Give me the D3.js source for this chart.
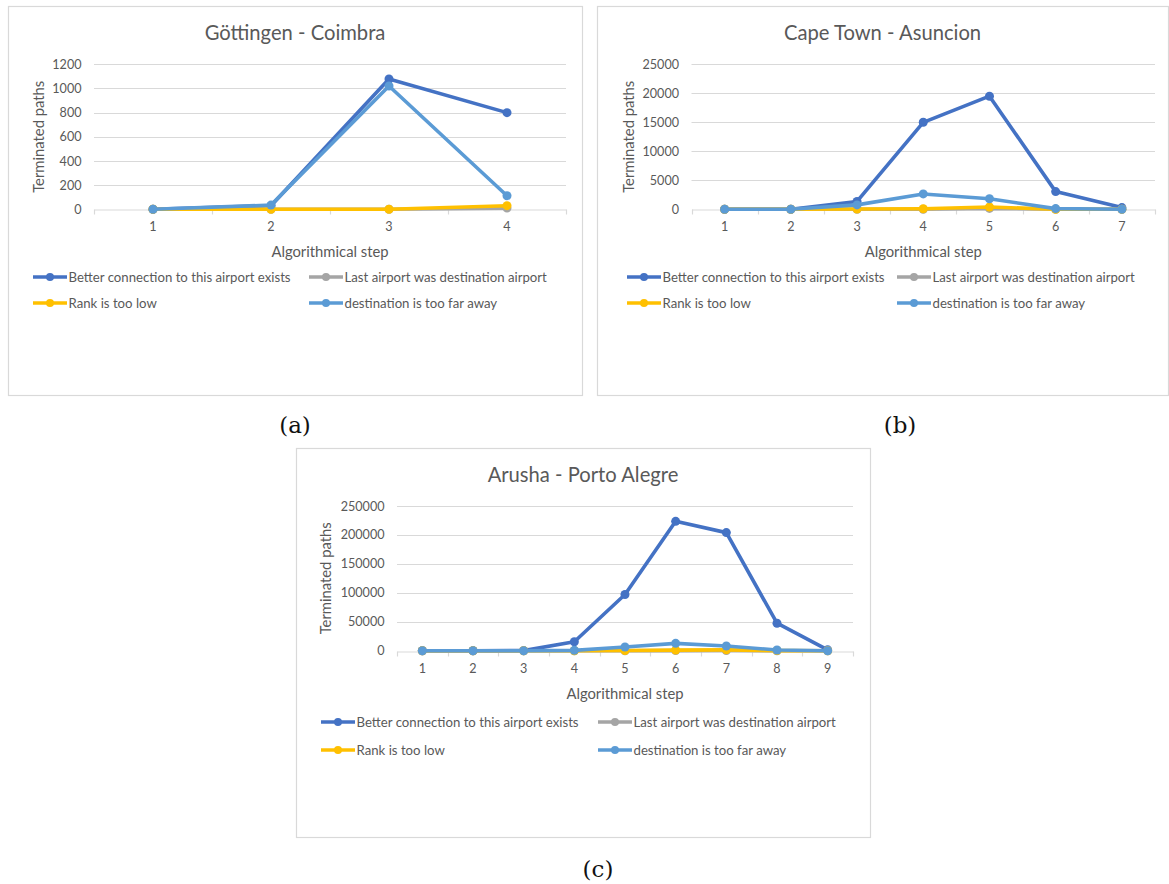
<!DOCTYPE html>
<html>
<head>
<meta charset="utf-8">
<script src="https://cdn.jsdelivr.net/npm/d3@7"></script>
<style>
  html, body { margin: 0; padding: 0; background: #ffffff; }
  svg { display: block; }
</style>
</head>
<body>
<svg id="fig" width="1169" height="884"></svg>
<script>
// Terminated paths per algorithmical step, for three airport pairs.
const seriesNames = [
  "Better connection to this airport exists",
  "Last airport was destination airport",
  "Rank is too low",
  "destination is too far away"
];
const seriesColors = ["#4472C4", "#A5A5A5", "#FFC000", "#5B9BD5"];

// (a) Göttingen - Coimbra
const stepsA = [1, 2, 3, 4];
const betterA = [0, 30, 1078, 800];
const lastA = [0, 0, 0, 10];
const rankA = [0, 0, 0, 30];
const farA = [0, 35, 1020, 112];
const yTicksA = [0, 200, 400, 600, 800, 1000, 1200];

// (b) Cape Town - Asuncion
const stepsB = [1, 2, 3, 4, 5, 6, 7];
const betterB = [0, 0, 1350, 15000, 19500, 3050, 300];
const lastB = [0, 0, 0, 0, 150, 0, 0];
const rankB = [0, 0, 50, 100, 400, 0, 0];
const farB = [0, 0, 760, 2650, 1820, 120, 0];
const yTicksB = [0, 5000, 10000, 15000, 20000, 25000];

// (c) Arusha - Porto Alegre
const stepsC = [1, 2, 3, 4, 5, 6, 7, 8, 9];
const betterC = [0, 0, 100, 15500, 97000, 223500, 204000, 47500, 1500];
const lastC = [0, 0, 0, 0, 0, 200, 300, 0, 0];
const rankC = [0, 0, 0, 0, 300, 1000, 1500, 200, 0];
const farC = [0, 0, 0, 600, 6300, 12700, 8200, 1200, 0];
const yTicksC = [0, 50000, 100000, 150000, 200000, 250000];

const TEXT = "#595959";
const GRID = "#D9D9D9";
const SANS = "Lato, 'Open Sans', sans-serif";

const svg = d3.select("#fig");

function drawPanel(p) {
  const g = svg.append("g");

  // chart area border
  g.append("rect")
    .attr("x", p.frame[0] + 0.5).attr("y", p.frame[1] + 0.5)
    .attr("width", p.frame[2]).attr("height", p.frame[3])
    .attr("fill", "#fff").attr("stroke", GRID).attr("stroke-width", 1.2);

  const x = d3.scaleBand().domain(p.steps).range([p.left, p.right]);
  const y = d3.scaleLinear().domain([0, d3.max(p.yTicks)]).range([p.bottom, p.top]);
  const cx = d => x(d) + x.bandwidth() / 2;

  // title
  g.append("text")
    .attr("x", p.frame[0] + p.frame[2] / 2).attr("y", p.frame[1] + 26)
    .attr("text-anchor", "middle").attr("dominant-baseline", "central")
    .attr("font-family", SANS).attr("font-size", 20.2).attr("fill", TEXT)
    .text(p.title);

  // horizontal gridlines
  g.append("g").selectAll("line").data(p.yTicks.filter(v => v > 0)).join("line")
    .attr("x1", p.left).attr("x2", p.right)
    .attr("y1", d => Math.round(y(d)) + 0.5).attr("y2", d => Math.round(y(d)) + 0.5)
    .attr("stroke", GRID).attr("stroke-width", 1.2);

  // value axis labels
  const yAxis = g.append("g")
    .attr("transform", `translate(${p.left},0)`)
    .call(d3.axisLeft(y).tickValues(p.yTicks).tickSize(0).tickPadding(12.5).tickFormat(d3.format("d")));
  yAxis.select(".domain").remove();
  yAxis.selectAll("text")
    .attr("font-family", SANS).attr("font-size", 12.6).attr("fill", TEXT);

  // category axis with labels under each step
  const y0 = Math.round(y(0)) + 0.5;
  const xAxis = g.append("g")
    .attr("transform", `translate(0,${y0})`)
    .call(d3.axisBottom(x).tickSize(0).tickPadding(13));
  xAxis.select(".domain").attr("stroke", GRID).attr("stroke-width", 1.2);
  xAxis.selectAll("text")
    .attr("font-family", SANS).attr("font-size", 12.6).attr("fill", TEXT);

  // tick marks between categories
  const edges = p.steps.map(d => x(d)).concat([p.right]);
  g.append("g").selectAll("line").data(edges).join("line")
    .attr("x1", d => Math.round(d) + 0.5).attr("x2", d => Math.round(d) + 0.5)
    .attr("y1", y0).attr("y2", y0 + 5)
    .attr("stroke", GRID).attr("stroke-width", 1.2);

  // axis titles
  g.append("text")
    .attr("x", (p.left + p.right) / 2).attr("y", p.bottom + 42)
    .attr("text-anchor", "middle").attr("dominant-baseline", "central")
    .attr("font-family", SANS).attr("font-size", 14.8).attr("fill", TEXT)
    .text("Algorithmical step");
  g.append("text")
    .attr("transform", `translate(${p.left - p.yTitleOffset},${(p.top + p.bottom) / 2}) rotate(-90)`)
    .attr("text-anchor", "middle").attr("dominant-baseline", "central")
    .attr("font-family", SANS).attr("font-size", 14.8).attr("fill", TEXT)
    .text("Terminated paths");

  // series lines and markers
  const line = d3.line().x((v, i) => cx(p.steps[i])).y(v => y(v));
  p.series.forEach((vals, si) => {
    const sg = g.append("g");
    sg.append("path").datum(vals)
      .attr("d", line).attr("fill", "none")
      .attr("stroke", seriesColors[si]).attr("stroke-width", 3.6)
      .attr("stroke-linejoin", "round").attr("stroke-linecap", "round");
    sg.selectAll("circle").data(vals).join("circle")
      .attr("cx", (v, i) => cx(p.steps[i])).attr("cy", v => y(v))
      .attr("r", 4.5).attr("fill", seriesColors[si]);
  });

  // legend, two columns by two rows
  seriesNames.forEach((name, si) => {
    const col = si % 2, row = Math.floor(si / 2);
    const lx = p.legendCols[col], ly = p.legendRows[row];
    const lg = g.append("g");
    lg.append("line")
      .attr("x1", lx).attr("x2", lx + 34).attr("y1", ly).attr("y2", ly)
      .attr("stroke", seriesColors[si]).attr("stroke-width", 3.4);
    lg.append("circle").attr("cx", lx + 17).attr("cy", ly).attr("r", 4)
      .attr("fill", seriesColors[si]);
    lg.append("text")
      .attr("x", lx + 35.5).attr("y", ly)
      .attr("dominant-baseline", "central")
      .attr("font-family", SANS).attr("font-size", 13.2).attr("fill", TEXT)
      .text(name);
  });

  // sub-figure caption
  svg.append("text")
    .attr("x", p.caption[0]).attr("y", p.caption[1])
    .attr("text-anchor", "middle").attr("dominant-baseline", "central")
    .attr("font-family", "'DejaVu Serif', serif").attr("font-size", 23).attr("fill", "#111")
    .text(p.captionText);
}

drawPanel({
  title: "Göttingen - Coimbra", captionText: "(a)",
  frame: [8, 6, 574, 389],
  left: 94, right: 566, top: 64.3, bottom: 209.3, yTitleOffset: 56,
  steps: stepsA, series: [betterA, lastA, rankA, farA], yTicks: yTicksA,
  legendCols: [33, 309], legendRows: [277, 303],
  caption: [295, 425]
});

drawPanel({
  title: "Cape Town - Asuncion", captionText: "(b)",
  frame: [597, 6, 571, 389],
  left: 691.5, right: 1155, top: 64.3, bottom: 209.3, yTitleOffset: 63.5,
  steps: stepsB, series: [betterB, lastB, rankB, farB], yTicks: yTicksB,
  legendCols: [627, 897], legendRows: [277, 303],
  caption: [900, 425]
});

drawPanel({
  title: "Arusha - Porto Alegre", captionText: "(c)",
  frame: [296, 448, 574, 389],
  left: 397, right: 853, top: 506, bottom: 650.7, yTitleOffset: 72,
  steps: stepsC, series: [betterC, lastC, rankC, farC], yTicks: yTicksC,
  legendCols: [321, 598], legendRows: [722, 750],
  caption: [598, 869]
});
</script>
</body>
</html>
